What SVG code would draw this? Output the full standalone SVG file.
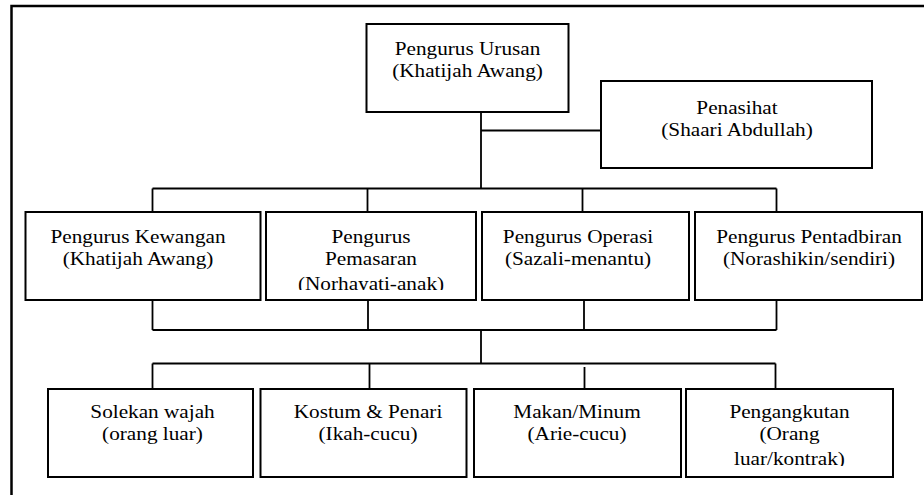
<svg xmlns="http://www.w3.org/2000/svg" width="924" height="495" viewBox="0 0 924 495">
<style>
.box{fill:#fff;stroke:#000;stroke-width:2}
.t{font-family:'Liberation Serif','Times New Roman','DejaVu Serif',serif;font-size:18px;fill:#000;text-anchor:middle}
.c{fill:none;stroke:#000;stroke-width:1.8}
.frame{fill:none;stroke:#000;stroke-width:2.5}
</style>
<defs>
<clipPath id="clipB2" clipPathUnits="userSpaceOnUse"><rect x="266" y="212" width="210" height="78"/></clipPath>
<clipPath id="clipC4" clipPathUnits="userSpaceOnUse"><rect x="686" y="389" width="207" height="77"/></clipPath>
</defs>
<rect width="924" height="495" fill="#fff"/>
<path class="frame" d="M11.5,495 V6 H924"/>
<g id="connectors">
<path class="c" d="M481,112 V188.5 M481,130.5 H601"/>
<path class="c" d="M152.5,188.5 H776.5 M152.5,188.5 V212 M367.5,188.5 V212 M582.5,188.5 V212 M776.5,188.5 V212"/>
<path class="c" d="M152.5,300 V330 M368,300 V330 M584,300 V330 M776.5,300 V330 M152.5,330 H776.5 M481,330 V363.5"/>
<path class="c" d="M152.5,363.5 H775.5 M152.5,363.5 V389 M369.5,363.5 V389 M584.5,367 V389 M775.5,363.5 V389"/>
</g>
<g id="urusan">
<rect class="box" x="366.5" y="24" width="202" height="88"/>
<text class="t" font-family="Liberation Serif" transform="translate(467.5,0) scale(1.18,1)"><tspan x="0" y="55">Pengurus Urusan</tspan><tspan x="0" y="77">(Khatijah Awang)</tspan></text>
</g>
<g id="penasihat">
<rect class="box" x="601" y="81" width="271" height="87"/>
<text class="t" font-family="Liberation Serif" transform="translate(737,0) scale(1.18,1)"><tspan x="0" y="114">Penasihat</tspan><tspan x="0" y="136">(Shaari Abdullah)</tspan></text>
</g>
<g id="kewangan">
<rect class="box" x="25.5" y="212" width="235" height="88"/>
<text class="t" font-family="Liberation Serif" transform="translate(138,0) scale(1.18,1)"><tspan x="0" y="243.5">Pengurus Kewangan</tspan><tspan x="0" y="265.5">(Khatijah Awang)</tspan></text>
</g>
<g id="pemasaran">
<rect class="box" x="266" y="212" width="210" height="88"/>
<g clip-path="url(#clipB2)">
<text class="t" font-family="Liberation Serif" transform="translate(371,0) scale(1.18,1)"><tspan x="0" y="243.5">Pengurus</tspan><tspan x="0" y="265.5">Pemasaran</tspan><tspan x="0" y="290">(Norhayati-anak)</tspan></text>
</g>
</g>
<g id="operasi">
<rect class="box" x="482" y="212" width="207" height="88"/>
<text class="t" font-family="Liberation Serif" transform="translate(578,0) scale(1.18,1)"><tspan x="0" y="243.5">Pengurus Operasi</tspan><tspan x="0" y="265.5">(Sazali-menantu)</tspan></text>
</g>
<g id="pentadbiran">
<rect class="box" x="695" y="212" width="227" height="88"/>
<text class="t" font-family="Liberation Serif" transform="translate(809,0) scale(1.18,1)"><tspan x="0" y="243.5">Pengurus Pentadbiran</tspan><tspan x="0" y="265.5">(Norashikin/sendiri)</tspan></text>
</g>
<g id="solekan">
<rect class="box" x="48" y="389" width="205" height="88"/>
<text class="t" font-family="Liberation Serif" transform="translate(152.5,0) scale(1.18,1)"><tspan x="0" y="418">Solekan wajah</tspan><tspan x="0" y="440">(orang luar)</tspan></text>
</g>
<g id="kostum">
<rect class="box" x="260.5" y="389" width="206" height="88"/>
<text class="t" font-family="Liberation Serif" transform="translate(368,0) scale(1.18,1)"><tspan x="0" y="418">Kostum &amp; Penari</tspan><tspan x="0" y="440">(Ikah-cucu)</tspan></text>
</g>
<g id="makan">
<rect class="box" x="474" y="389" width="207" height="88"/>
<text class="t" font-family="Liberation Serif" transform="translate(577,0) scale(1.18,1)"><tspan x="0" y="418">Makan/Minum</tspan><tspan x="0" y="440">(Arie-cucu)</tspan></text>
</g>
<g id="pengangkutan">
<rect class="box" x="686" y="389" width="207" height="88"/>
<g clip-path="url(#clipC4)">
<text class="t" font-family="Liberation Serif" transform="translate(789.5,0) scale(1.18,1)"><tspan x="0" y="418">Pengangkutan</tspan><tspan x="0" y="440">(Orang</tspan><tspan x="0" y="465.5">luar/kontrak)</tspan></text>
</g>
</g>
</svg>
